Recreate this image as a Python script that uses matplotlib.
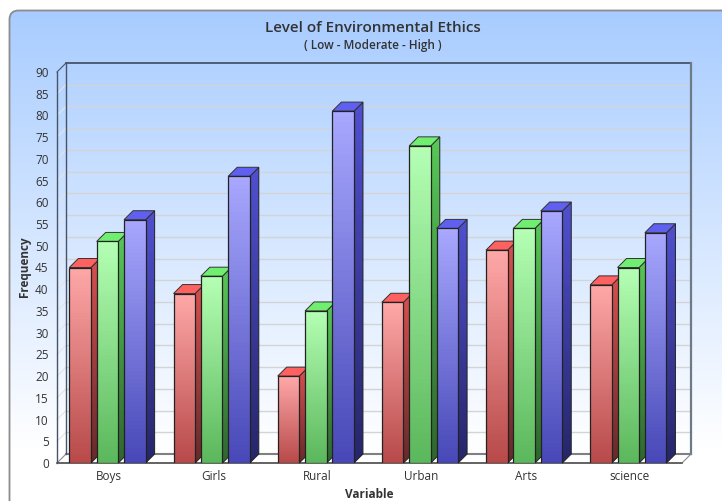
import numpy as np
import matplotlib
matplotlib.use("Agg")
import matplotlib.pyplot as plt
from matplotlib.patches import FancyBboxPatch, Polygon
from matplotlib.colors import LinearSegmentedColormap

categories = ["Boys", "Girls", "Rural", "Urban", "Arts", "science"]
low = [45, 39, 20, 37, 49, 41]
moderate = [51, 43, 35, 73, 54, 45]
high = [56, 66, 81, 54, 58, 53]
y_ticks = list(range(0, 95, 5))

W, H = 722, 501
plt.rcParams['font.family'] = ['Open Sans', 'DejaVu Sans']
fig = plt.figure(figsize=(W / 100, H / 100), dpi=100, facecolor='white')

# background panel (pixel coordinates)
bg = fig.add_axes([0, 0, 1, 1])
bg.set_xlim(0, W); bg.set_ylim(H, 0); bg.axis('off')
panel = FancyBboxPatch((9.5, 10.5), 800, 600, boxstyle="round,pad=0,rounding_size=9",
                       fc='none', ec='#8c8c8c', lw=1.3, zorder=3)
bg.add_patch(panel)
cm = LinearSegmentedColormap.from_list('bg', ['#a8ccff', '#ffffff'])
g = np.clip((np.arange(10, 501)[:, None] - 10) / 440.0, 0, 1)
im = bg.imshow(g, cmap=cm, vmin=0, vmax=1, extent=[9, W, 501, 10], aspect='auto', zorder=1)
im.set_clip_path(panel)
bg.set_xlim(0, W); bg.set_ylim(H, 0)

# plot axes = front plane
L, R, B, T = 57, 682, 463, 72
ax = fig.add_axes([L / W, 1 - B / H, (R - L) / W, (B - T) / H])
ax.patch.set_alpha(0)
ax.set_xlim(0, 6); ax.set_ylim(0, 90)
for s in ax.spines.values():
    s.set_visible(False)

px = 6 / (R - L); py = 90 / (B - T)
dx, dy = 9 * px, 9 * py
wall = '#46546a'
# floor and back wall
ax.add_patch(Polygon([(0, 0), (dx, dy), (6 + dx, dy), (6, 0)], closed=True, fc='white', ec='#8a8a8a', lw=0.8, clip_on=False, zorder=1))
for v in y_ticks[1:-1]:
    ax.plot([0, dx], [v, v + dy], color='#e4e4e4', lw=0.8, clip_on=False, zorder=1.2)
    ax.plot([dx, 6 + dx], [v + dy, v + dy], color='#d4d4d4', lw=1, clip_on=False, zorder=1.2)
ax.plot([dx, 6 + dx], [90 + dy, 90 + dy], color=wall, lw=1.3, clip_on=False, zorder=1.5)
ax.plot([6 + dx, 6 + dx], [90 + dy, dy], color='#6f7a88', lw=1.6, clip_on=False, zorder=1.5)
ax.plot([dx, 6 + dx], [dy, dy], color='#808080', lw=1.5, clip_on=False, zorder=1.5)
ax.plot([dx, dx], [dy, 90 + dy], color=wall, lw=1.0, clip_on=False, zorder=1.5)
ax.plot([0, 0], [0, 90], color=wall, lw=1.0, clip_on=False, zorder=1.5)
ax.plot([0, dx], [90, 90 + dy], color=wall, lw=0.8, clip_on=False, zorder=1.5)
ax.plot([0, 6], [0, 0], color='#555555', lw=1.2, clip_on=False, zorder=1.6)

series = [
    (low, -0.2625, '#ffa8a8', '#b84a4a', '#ff6060', '#d85050', '#662a2a'),
    (moderate, 0.0, '#b4ffb4', '#5cb85c', '#70ee70', '#58c858', '#2f662f'),
    (high, 0.2625, '#a8a8ff', '#4848b8', '#6060f0', '#5050d0', '#26266a'),
]
bw = 21.6 * px
shift = -1.6 * px
for i in range(len(categories)):
    for k, (vals, off, c1, c2, ctop, cs1, cs2) in enumerate(series):
        v = vals[i]
        x0 = i + 0.5 + off - bw / 2 + shift
        z = 2 + i + k * 0.1
        # side face
        side = Polygon([(x0 + bw, 0), (x0 + bw + dx, dy), (x0 + bw + dx, v + dy), (x0 + bw, v)],
                       closed=True, fc='none', ec='#222222', lw=0.7, clip_on=False, zorder=z + 0.02)
        ax.add_patch(side)
        cmap_s = LinearSegmentedColormap.from_list('s', [cs2, cs1])
        si = ax.imshow(np.linspace(1, 0, 64)[:, None], cmap=cmap_s, vmin=0, vmax=1,
                       extent=[x0 + bw, x0 + bw + dx, 0, v + dy], aspect='auto', zorder=z + 0.01)
        si.set_clip_path(side)
        # top face
        ax.add_patch(Polygon([(x0, v), (x0 + dx, v + dy), (x0 + bw + dx, v + dy), (x0 + bw, v)],
                             closed=True, fc=ctop, ec='#333333', lw=0.7, clip_on=False, zorder=z + 0.02))
        # front face
        bar = ax.bar(x0, v, bw, align='edge', fc='none', ec='#222222', lw=0.9, zorder=z + 0.04)[0]
        cmap = LinearSegmentedColormap.from_list('b', [c2, c1])
        gi = ax.imshow(np.linspace(1, 0, 64)[:, None], cmap=cmap, vmin=0, vmax=1,
                       extent=[x0, x0 + bw, 0, v], aspect='auto', zorder=z + 0.03)
        gi.set_clip_path(bar)
ax.set_xlim(0, 6); ax.set_ylim(0, 90)

ax.set_xticks(np.arange(6) + 0.5, categories)
ax.set_yticks(y_ticks, [str(t) for t in y_ticks])
ax.tick_params(axis='both', length=0, labelsize=8.5, labelcolor='#333333')
ax.tick_params(axis='x', pad=4.8)
ax.tick_params(axis='y', pad=6)

tc = '#333333'
fig.text(372.5 / W, 1 - 27.5 / H, "Level of Environmental Ethics", ha='center', va='center', fontsize=11, fontweight='semibold', color=tc)
fig.text(373 / W, 1 - 46 / H, "( Low - Moderate - High )", ha='center', va='center', fontsize=8.5, fontweight='semibold', color=tc)
fig.text(369 / W, 1 - 495 / H, "Variable", ha='center', va='center', fontsize=8.5, fontweight='bold', color=tc)
fig.text(24 / W, 1 - 267 / H, "Frequency", ha='center', va='center', rotation=90, fontsize=8.5, fontweight='bold', color=tc)

fig.savefig('out.png', dpi=100)
